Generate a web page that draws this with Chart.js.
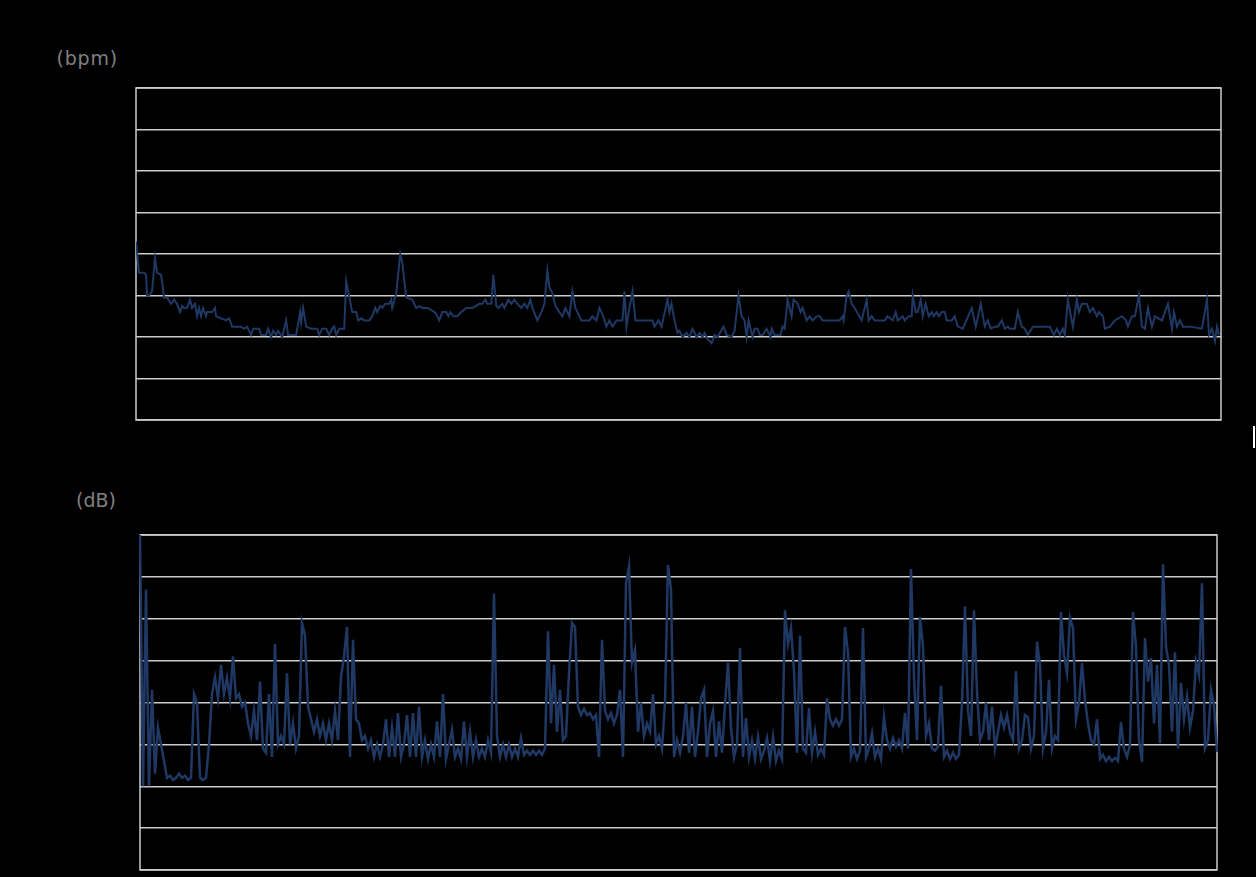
<!DOCTYPE html>
<html>
<head>
<meta charset="utf-8">
<script src="https://cdn.jsdelivr.net/npm/chart.js@4.4.1/dist/chart.umd.min.js"></script>
<style>
  html, body { margin: 0; padding: 0; background: #000; width: 1256px; height: 877px; overflow: hidden; }
  .unit { position: absolute; color: #808080; font-family: "DejaVu Sans", sans-serif; font-size: 19px; line-height: 19px; text-align: right; white-space: nowrap; }
  canvas { position: absolute; }
</style>
</head>
<body>
<div class="unit" style="right:1138px; top:49px; letter-spacing:0.8px;">(bpm)</div>
<div class="unit" style="right:1140px; top:491px;">(dB)</div>
<canvas id="hrChart" width="1105" height="352" style="left:126px; top:78px;"></canvas>
<canvas id="snoreChart" width="1097" height="350" style="left:130px; top:525px;"></canvas>
<div style="position:absolute; left:1253px; top:426px; width:2px; height:22px; background:#fff;"></div>
<script>
// heart rate: [sample, bpm] vertices
const bpmReadings = [
  [0,126],[3,111],[8,111],[10,110],[11,100],[13,100],[16,102],[19,118],[21,111],[25,110],
  [26,107],[28,99],[31,99],[35,96],[38,98],[41,96],[44,92],[46,95],[48,94],[51,94],
  [54,98],[56,94],[59,96],[61,90],[63,94],[65,90],[67,94],[70,90],[71,92],[76,92],
  [79,94],[80,90],[85,89],[90,88],[93,89],[96,85],[105,85],[108,84],[111,85],[115,81],
  [117,84],[123,84],[125,81],[130,81],[132,84],[135,80],[137,83],[140,81],[142,83],[146,80],
  [150,88],[152,81],[160,81],[164,92],[165,87],[167,94],[170,85],[175,84],[181,84],[183,81],
  [186,84],[190,84],[193,81],[196,84],[198,85],[200,81],[203,84],[208,84],[210,107],[216,92],
  [220,92],[222,88],[225,89],[228,88],[233,88],[236,90],[239,94],[241,92],[244,95],[246,94],
  [249,96],[253,96],[255,98],[256,94],[260,101],[264,120],[266,116],[270,99],[276,98],[280,94],
  [283,95],[286,94],[291,94],[295,93],[298,92],[300,91],[303,88],[306,92],[310,92],[312,90],
  [314,92],[317,90],[321,90],[325,92],[330,94],[336,94],[340,95],[343,96],[346,96],[349,98],
  [351,96],[355,96],[357,110],[360,95],[362,94],[366,96],[368,94],[372,98],[375,96],[378,98],
  [381,96],[385,94],[388,96],[391,94],[394,98],[396,94],[401,88],[405,92],[408,96],[411,112],
  [413,104],[416,101],[419,95],[423,92],[426,90],[429,94],[433,90],[436,102],[439,94],[445,88],
  [453,88],[456,90],[460,88],[463,94],[466,91],[470,85],[473,88],[476,85],[480,88],[486,88],
  [488,102],[490,85],[493,94],[496,102],[499,88],[516,88],[518,85],[522,88],[525,85],[531,98],
  [533,92],[535,96],[538,88],[541,82],[543,83],[546,80],[550,82],[553,80],[556,84],[560,80],
  [563,82],[566,80],[568,82],[571,79],[575,77],[578,81],[581,80],[587,85],[590,81],[595,80],
  [598,83],[602,100],[605,90],[608,88],[610,80],[612,88],[616,80],[618,84],[621,84],[623,81],
  [626,81],[630,84],[634,80],[635,84],[638,81],[644,81],[646,85],[648,84],[651,98],[655,90],
  [657,98],[661,96],[664,92],[666,94],[670,88],[673,90],[676,88],[680,90],[683,90],[686,88],
  [703,88],[706,90],[707,88],[710,100],[712,102],[715,96],[718,94],[725,88],[730,98],[732,88],
  [735,90],[738,88],[748,88],[751,90],[756,88],[759,92],[761,88],[766,90],[768,88],[772,90],
  [775,90],[776,100],[779,92],[781,92],[784,98],[786,90],[789,96],[792,90],[795,92],[797,90],
  [800,92],[802,90],[805,92],[808,92],[810,88],[815,88],[818,90],[821,85],[826,84],[835,94],
  [839,85],[844,96],[848,85],[851,88],[854,84],[858,85],[861,85],[865,88],[868,84],[871,85],
  [873,84],[878,84],[881,92],[885,85],[888,84],[891,81],[896,85],[900,85],[913,85],[917,81],
  [920,84],[923,81],[926,84],[928,81],[931,98],[934,90],[936,85],[940,98],[942,92],[945,96],
  [950,96],[953,92],[956,94],[960,90],[962,92],[966,90],[968,84],[973,85],[978,88],[985,90],
  [989,88],[991,85],[995,90],[998,90],[1002,100],[1005,85],[1008,84],[1011,94],[1015,85],[1018,90],
  [1025,88],[1031,96],[1035,84],[1037,92],[1040,85],[1043,88],[1046,85],[1053,85],[1065,84],[1070,98],
  [1072,81],[1075,84],[1078,78],[1080,85],[1082,81]
];
const bpmSampleMax = 1084;
const bpmTicks = { min: 40, max: 200, step: 20 };

// snoring level, one reading every sample
const dbValues = [
  100, 40, 87, 40, 63, 43, 54, 50, 46, 42,
  42.5, 41.5, 42, 43, 42, 42.5, 41.5, 42, 62, 60,
  42, 41.5, 42, 50, 62, 66, 61, 69, 62, 66,
  61, 71, 61, 62, 59, 60, 55, 52, 58, 51,
  65, 49, 48, 62, 47, 74, 50, 52, 50, 67,
  50, 55, 49, 52, 79, 76, 59, 56, 53, 56,
  52, 55, 51, 55, 51, 58, 51, 66, 71, 78,
  47, 75, 56, 55, 51, 52, 49, 51, 47, 50,
  47, 50, 56, 47, 54, 47, 57.5, 47, 50, 57,
  47, 57.5, 47, 59, 47, 51, 46.5, 50, 47, 55.5,
  47, 62, 46.5, 50, 53.5, 47, 49, 46.5, 55.5, 47,
  53, 47, 51, 47, 49, 47, 51, 48, 86, 52,
  47, 50, 47, 50, 47, 49, 47, 51.5, 47.5, 48.5,
  47.5, 48.5, 47.5, 48.5, 47.5, 49, 77, 55, 69, 53,
  63, 51, 52, 67, 79, 78, 59, 57, 58.5, 57,
  57.5, 56, 57, 47, 75, 58, 56, 57.5, 55, 57,
  63, 47, 88.5, 92.5, 69.5, 72.5, 53, 60, 52, 55,
  53, 62, 50, 52, 49, 60, 92.8, 87, 47, 51,
  48, 52, 60, 48, 59, 47, 53, 61, 63, 47,
  55, 58, 47, 55.5, 48, 59.5, 69.5, 54, 47, 50,
  73, 47, 56.3, 47, 51, 46.5, 51.8, 46.5, 48.5, 51.5,
  46, 51.8, 46, 48.5, 46.5, 82, 74, 77.8, 67.5, 48,
  76, 49, 48, 58.7, 48, 53, 47.5, 49, 47.5, 61,
  56, 54.5, 56, 54.5, 56, 78, 72, 47, 49, 46.5,
  48.5, 77.8, 47, 49, 52.7, 47, 49, 46.5, 56.5, 51,
  49, 51.5, 49.5, 51, 49, 57.5, 49, 91.9, 66, 51,
  80.4, 73.3, 52, 55, 49, 48.5, 49.5, 64, 47, 48.5,
  46.5, 48, 46.5, 47.5, 60, 83, 58, 52, 82, 62.5,
  51, 53, 60, 51, 59, 49, 53, 57, 54, 57,
  53, 51, 67.5, 49, 51, 57, 56.5, 49, 52, 74.5,
  69, 49, 53, 65.4, 49, 52, 51, 81.6, 71.3, 67,
  80.2, 77.8, 56, 60, 69.4, 60.5, 55, 51, 50, 56,
  46.5, 47.5, 46, 47, 46, 46.8, 46, 55.3, 49, 47,
  50, 81.6, 73.3, 51, 45.8, 75.4, 65, 70.6, 55, 69,
  50.3, 93, 73.3, 69, 53, 72, 49, 64.7, 56, 61.3,
  54, 58, 69.7, 66.6, 88.5, 49.1, 51, 63, 59.4, 48.2
];
const dbLabels = dbValues.map((v, i) => i);
const dbTicks = { min: 20, max: 100, step: 10 };

const LINE = '#1f3864';
const GRID = '#cccccc';

const frameBox = {
  id: 'frameBox',
  beforeDatasetsDraw(chart) {
    const { ctx, chartArea: a } = chart;
    ctx.save();
    ctx.strokeStyle = GRID;
    ctx.lineWidth = 1.5;
    ctx.strokeRect(a.left, a.top, a.right - a.left, a.bottom - a.top);
    ctx.restore();
  }
};

function yAxis(t) {
  return {
    min: t.min, max: t.max,
    ticks: { stepSize: t.step, display: false },
    grid: { color: GRID, lineWidth: 1.5, drawTicks: false },
    border: { display: false },
    afterFit: s => { s.width = 0; }
  };
}

const common = {
  responsive: false,
  animation: false,
  events: [],
  plugins: { legend: { display: false }, tooltip: { enabled: false } }
};

new Chart(document.getElementById('hrChart'), {
  type: 'line',
  data: {
    datasets: [{
      data: bpmReadings.map(r => ({ x: r[0], y: r[1] })),
      borderColor: LINE, borderWidth: 2, pointRadius: 0, tension: 0, fill: false
    }]
  },
  options: {
    ...common,
    layout: { padding: { left: 10, right: 10, top: 10, bottom: 10 } },
    scales: {
      x: { type: 'linear', min: 0, max: bpmSampleMax, display: false },
      y: yAxis(bpmTicks)
    }
  },
  plugins: [frameBox]
});

new Chart(document.getElementById('snoreChart'), {
  type: 'line',
  data: {
    labels: dbLabels,
    datasets: [{
      data: dbValues,
      borderColor: LINE, borderWidth: 2.5, pointRadius: 0, tension: 0, fill: false
    }]
  },
  options: {
    ...common,
    layout: { padding: { left: 10, right: 10, top: 10, bottom: 5 } },
    scales: {
      x: { type: 'category', display: false },
      y: yAxis(dbTicks)
    }
  },
  plugins: [frameBox]
});
</script>
</body>
</html>
